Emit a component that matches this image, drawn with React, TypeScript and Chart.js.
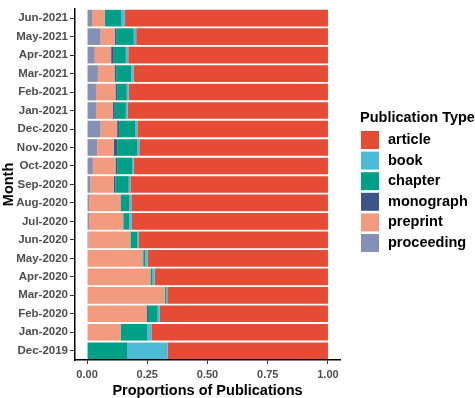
import React, { useEffect, useRef } from "react";
import { Chart, registerables } from "chart.js";

Chart.register(...registerables);

const months = [
  "Jun-2021", "May-2021", "Apr-2021", "Mar-2021", "Feb-2021", "Jan-2021",
  "Dec-2020", "Nov-2020", "Oct-2020", "Sep-2020", "Aug-2020", "Jul-2020",
  "Jun-2020", "May-2020", "Apr-2020", "Mar-2020", "Feb-2020", "Jan-2020", "Dec-2019",
];

const proceeding = [0.021, 0.056, 0.032, 0.045, 0.037, 0.037, 0.056, 0.042, 0.024, 0.014, 0.008, 0.008, 0.005, 0.003, 0.002, 0.002, 0, 0, 0];
const preprint = [0.053, 0.059, 0.068, 0.069, 0.081, 0.070, 0.069, 0.069, 0.094, 0.097, 0.131, 0.142, 0.175, 0.230, 0.261, 0.320, 0.249, 0.139, 0];
const monograph = [0, 0.006, 0.011, 0.007, 0.007, 0.008, 0.008, 0.014, 0.007, 0.007, 0.002, 0.002, 0, 0, 0, 0, 0.004, 0, 0];
const chapter = [0.067, 0.073, 0.050, 0.063, 0.040, 0.046, 0.068, 0.083, 0.062, 0.055, 0.035, 0.023, 0.028, 0.009, 0.009, 0.007, 0.040, 0.110, 0.166];
const book = [0.016, 0.010, 0.010, 0.009, 0.008, 0.008, 0.008, 0.009, 0.007, 0.007, 0.008, 0.011, 0.007, 0.010, 0.009, 0.004, 0.009, 0.018, 0.169];
const article = [0.843, 0.796, 0.829, 0.807, 0.827, 0.831, 0.791, 0.783, 0.806, 0.820, 0.816, 0.814, 0.785, 0.748, 0.719, 0.667, 0.698, 0.733, 0.665];

const xTicks = [0, 0.25, 0.5, 0.75, 1];

const legendTitle = "Publication Type";
const legendOrder = ["article", "book", "chapter", "monograph", "preprint", "proceeding"];

const colors: Record<string, string> = {
  proceeding: "#8491B4",
  preprint: "#F39B7F",
  monograph: "#3C5488",
  chapter: "#00A087",
  book: "#4DBBD5",
  article: "#E64B35",
};

const FONT = "'Liberation Sans', Arial, sans-serif";

const legendPlugin = {
  id: "customLegend",
  afterDraw(chart: any) {
    const ctx = chart.ctx;
    ctx.save();
    ctx.fillStyle = "#000";
    ctx.font = `bold 14.5px ${FONT}`;
    ctx.textBaseline = "alphabetic";
    ctx.textAlign = "left";
    ctx.fillText(legendTitle, 360, 122);
    const dsets = chart.data.datasets;
    legendOrder.forEach((name, i) => {
      const ds = dsets.find((d: any) => d.label === name);
      const y = 130 + i * 20.6;
      ctx.fillStyle = ds.backgroundColor;
      ctx.fillRect(361, y + 1, 18, 18);
      ctx.fillStyle = "#000";
      ctx.font = `bold 14.5px ${FONT}`;
      ctx.textBaseline = "middle";
      ctx.fillText(name, 388, y + 10);
    });
    ctx.restore();
  },
};

export default function App() {
  const ref = useRef<HTMLCanvasElement>(null);
  useEffect(() => {
    document.body.style.margin = "0";
    const series: [string, number[]][] = [
      ["proceeding", proceeding],
      ["preprint", preprint],
      ["monograph", monograph],
      ["chapter", chapter],
      ["book", book],
      ["article", article],
    ];
    const chart = new Chart(ref.current!, {
      type: "bar",
      data: {
        labels: months,
        datasets: series.map(([name, vals]) => ({
          label: name,
          data: vals,
          backgroundColor: colors[name],
          borderWidth: 0,
          categoryPercentage: 0.9,
          barPercentage: 1,
        })),
      },
      options: {
        indexAxis: "y",
        animation: false,
        responsive: false,
        maintainAspectRatio: false,
        layout: { padding: { top: 0, right: 135, left: 0, bottom: 0 } },
        plugins: {
          legend: { display: false },
          tooltip: { enabled: false },
        },
        scales: {
          x: {
            type: "linear",
            stacked: true,
            min: -0.05,
            max: 1.05,
            afterBuildTicks: (s: any) => {
              s.ticks = xTicks.map((v) => ({ value: v }));
            },
            afterFit: (s: any) => {
              s.height = 38;
            },
            grid: {
              drawOnChartArea: false,
              drawTicks: true,
              tickLength: 4,
              color: "#333",
            },
            border: { display: true, color: "#000", width: 1.5 },
            ticks: {
              autoSkip: false,
              maxRotation: 0,
              padding: 4,
              color: "#4D4D4D",
              font: { family: FONT, size: 11, weight: "bold" },
              callback: (v: any) => Number(v).toFixed(2),
            },
            title: {
              display: true,
              text: "Proportions of Publications",
              color: "#000",
              font: { family: FONT, size: 14.5, weight: "bold", lineHeight: 1.0 },
              padding: { top: 0, bottom: 0 },
            },
          },
          y: {
            stacked: true,
            offset: true,
            afterFit: (s: any) => {
              s.width = 75;
            },
            grid: {
              drawOnChartArea: false,
              drawTicks: true,
              tickLength: 5,
              color: "#333",
              offset: false,
            },
            border: { display: true, color: "#000", width: 1.5 },
            ticks: {
              autoSkip: false,
              padding: 2,
              color: "#4D4D4D",
              font: { family: FONT, size: 11.5, weight: "bold" },
            },
            title: {
              display: true,
              text: "Month",
              color: "#000",
              font: { family: FONT, size: 14.5, weight: "bold" },
              padding: { top: 0, bottom: 0 },
            },
          },
        },
      },
      plugins: [legendPlugin],
    } as any);
    return () => chart.destroy();
  }, []);
  return <canvas ref={ref} width={475} height={398} style={{ display: "block" }} />;
}
